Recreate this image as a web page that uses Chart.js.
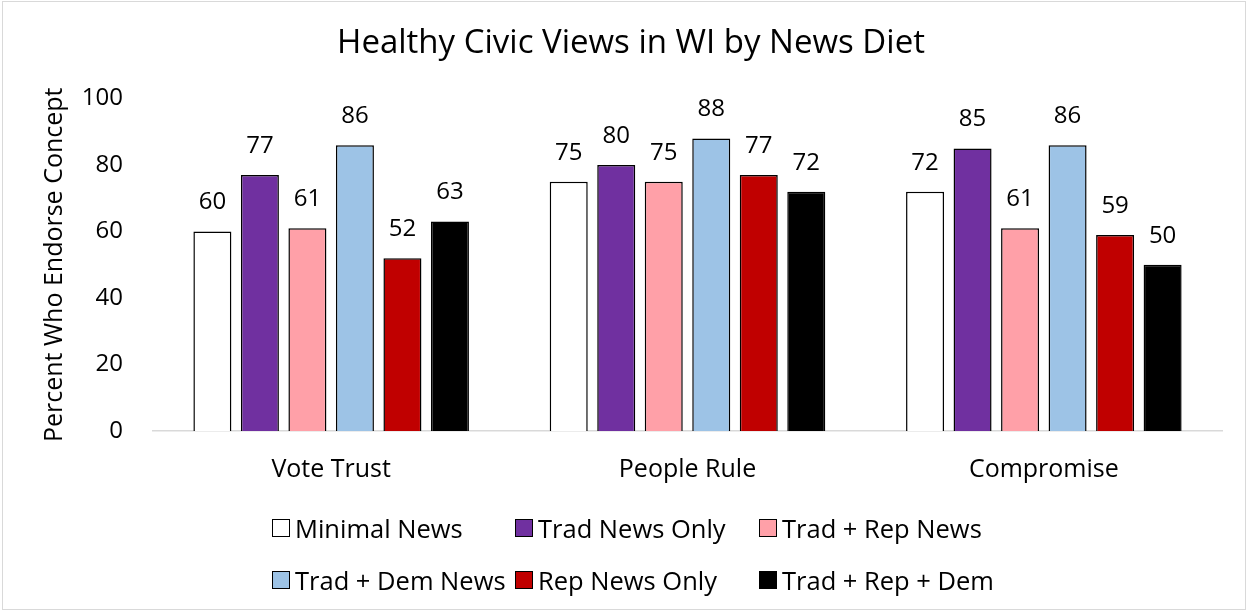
<!DOCTYPE html>
<html>
<head>
<meta charset="utf-8">
<script src="https://cdn.jsdelivr.net/npm/chart.js"></script>
<style>
  html, body { margin: 0; padding: 0; background: #fff; }
  #wrap { position: relative; width: 1249px; height: 613px; }
  #frame { position: absolute; left: 2px; top: 1px; width: 1244px; height: 609px; border: 1px solid #d9d9d9; box-sizing: border-box; pointer-events: none; }
  canvas { position: absolute; left: 0; top: 0; }
  .lg { position: absolute; display: flex; align-items: center; height: 30px; font-family: "Open Sans", sans-serif; font-size: 25.5px; color: #000; white-space: nowrap; }
  .lg .bx { display: inline-block; width: 16px; height: 16px; border: 1px solid #000; margin-right: 5px; flex: none; }
</style>
</head>
<body>
<div id="wrap">
  <canvas id="c" width="1249" height="613"></canvas>
  <div id="frame"></div>
  <div id="legend"></div>
</div>
<script>
const categories = ["Vote Trust", "People Rule", "Compromise"];
const seriesNames = ["Minimal News", "Trad News Only", "Trad + Rep News", "Trad + Dem News", "Rep News Only", "Trad + Rep + Dem"];
const minimalNews = [60, 75, 72];
const tradNewsOnly = [77, 80, 85];
const tradRepNews = [61, 75, 61];
const tradDemNews = [86, 88, 86];
const repNewsOnly = [52, 77, 59];
const tradRepDem = [63, 72, 50];
const seriesColors = ["#FFFFFF", "#7030A0", "#FFA0A8", "#9DC3E6", "#C00000", "#000000"];
const yTicks = [0, 20, 40, 60, 80, 100];

const seriesValues = [minimalNews, tradNewsOnly, tradRepNews, tradDemNews, repNewsOnly, tradRepDem];
const FONT = "'Open Sans', sans-serif";

const labelPlugin = {
  id: 'valueLabels',
  afterDatasetsDraw(chart) {
    const ctx = chart.ctx;
    ctx.save();
    ctx.font = "24px " + FONT;
    ctx.fillStyle = "#000";
    ctx.textAlign = "center";
    ctx.textBaseline = "middle";
    chart.data.datasets.forEach((ds, i) => {
      const meta = chart.getDatasetMeta(i);
      meta.data.forEach((el, j) => {
        ctx.fillText(String(ds.data[j]), el.x, el.y - 29);
      });
    });
    ctx.restore();
  }
};

const chart = new Chart(document.getElementById('c'), {
  type: 'bar',
  data: {
    labels: categories,
    datasets: seriesNames.map((n, i) => ({
      label: n,
      data: seriesValues[i],
      backgroundColor: seriesColors[i],
      borderColor: "#000",
      borderWidth: 1.5,
      categoryPercentage: 0.8,
      barPercentage: 0.8
    }))
  },
  options: {
    responsive: false,
    animation: false,
    layout: { padding: { left: 40, right: 27, top: 0, bottom: 122 } },
    plugins: {
      legend: { display: false },
      tooltip: { enabled: false },
      title: {
        display: true,
        text: "Healthy Civic Views in WI by News Diet",
        color: "#000",
        font: { family: FONT, size: 33, weight: 'normal' },
        padding: { top: 24, bottom: 35 }
      }
    },
    scales: {
      x: {
        afterFit(scale) { scale.height = 60; },
        grid: { display: false, drawTicks: false },
        border: { display: true, color: "#d9d9d9", width: 1.5 },
        ticks: { color: "#000", font: { family: FONT, size: 25 }, padding: 24 }
      },
      y: {
        min: 0, max: 100,
        afterBuildTicks(scale) { scale.ticks = yTicks.map(v => ({ value: v })); },
        afterFit(scale) { scale.width = 113; },
        grid: { display: false, drawTicks: false },
        border: { display: false },
        ticks: { color: "#000", font: { family: FONT, size: 24 }, padding: 30 },
        title: {
          display: true,
          text: "Percent Who Endorse Concept",
          color: "#000",
          font: { family: FONT, size: 25 },
          padding: { top: 0, bottom: 0 }
        }
      }
    }
  },
  plugins: [labelPlugin]
});

// HTML legend built from series
const legendPos = [[272, 513], [515, 513], [759, 513], [272, 565], [515, 565], [759, 565]];
const lg = document.getElementById('legend');
seriesNames.forEach((n, i) => {
  const d = document.createElement('div');
  d.className = 'lg';
  d.style.left = legendPos[i][0] + 'px';
  d.style.top = legendPos[i][1] + 'px';
  d.innerHTML = '<span class="bx" style="background:' + seriesColors[i] + '"></span><span>' + n + '</span>';
  lg.appendChild(d);
});
</script>
</body>
</html>
